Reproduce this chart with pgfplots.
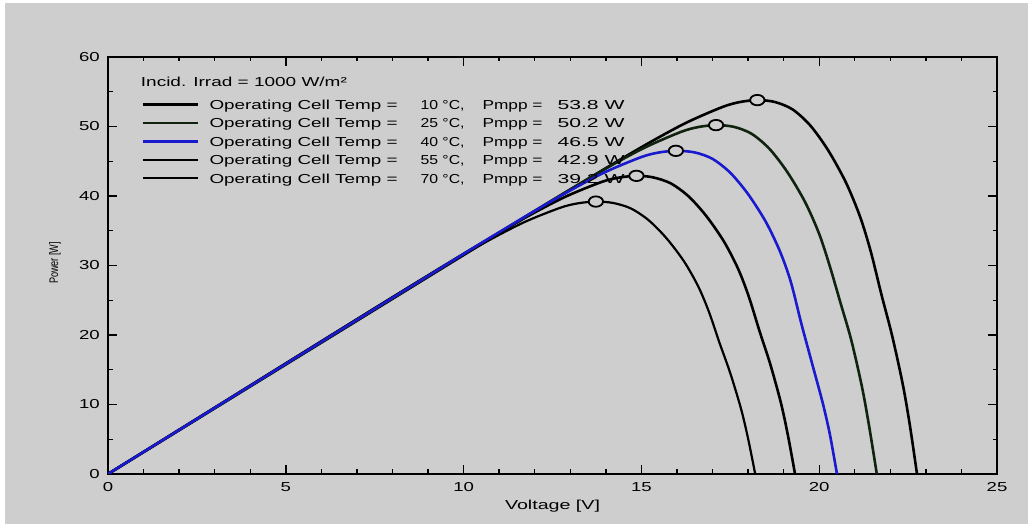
\documentclass[border=0pt]{standalone}
\usepackage{pgfplots}
\pgfplotsset{compat=1.18}
\usepackage{fontspec}
\setmainfont{Liberation Sans}
\newfontfamily\widef[FakeStretch=1.43]{Liberation Sans}
\definecolor{bg}{RGB}{206,206,206}
\definecolor{c25}{RGB}{15,35,15}
\definecolor{cblue}{RGB}{25,25,205}
\newcommand\legfont{\fontsize{13}{15}\selectfont}
\newcommand\fit[2]{\resizebox{#1}{\height}{\legfont #2}}
\newcommand\row[2]{\makebox[211pt][l]{\fit{188pt}{Operating Cell Temp =}}\makebox[62pt][l]{\fit{44pt}{#1 °C,}}\makebox[75pt][l]{\fit{60pt}{Pmpp =}}\fit{67pt}{#2 W}}
\begin{document}
\begin{tikzpicture}
\useasboundingbox (-108pt,-50pt) rectangle (920pt,474pt);
\fill[white] (-108pt,-50pt) rectangle (920pt,474pt);
\fill[bg] (-103pt,-50pt) rectangle (920pt,471pt);
\node[rotate=90, anchor=center, inner sep=0pt] at (-53pt,211pt) {\resizebox{42pt}{9pt}{\fontsize{12}{14}\selectfont Power [W]}};
\begin{axis}[
  at={(0pt,0pt)}, anchor=south west,
  scale only axis, width=889pt, height=417pt,
  xmin=0, xmax=25, ymin=0, ymax=60,
  xtick={0,5,...,25}, ytick={0,10,...,60},
  minor x tick num=4, minor y tick num=1,
  tick align=inside,
  major tick length=9pt, minor tick length=4.5pt,
  tick style={black, line width=1.4pt},
  axis line style={line width=2.6pt},
  tick label style={font=\widef\fontsize{13}{15}\selectfont, /pgf/number format/assume math mode=true},
  xticklabel style={anchor=north, inner sep=0pt, yshift=-8pt},
  yticklabel style={anchor=east, inner sep=0pt, xshift=-8pt},
  xlabel={\fit{95pt}{Voltage [V]}},
  xlabel style={at={(axis description cs:0.5,-0.0863)}, anchor=base, inner sep=0pt},
  legend style={at={(0.0382,0.898)}, anchor=north west, draw=none, fill=none, inner sep=0pt, row sep=9.2pt,
    font=\legfont,
    nodes={inner sep=0pt, text height=9.3pt, text depth=0pt, font=\legfont},
    cells={anchor=west}},
  legend image code/.code={\draw[#1] (0pt,0pt) -- (55pt,0pt); \path (65pt,0pt);},
]
% 10 C
\addplot[black, line width=2.6pt, smooth, tension=0.5, forget plot] coordinates {
(0,0) (2,6.30) (4,12.60) (6,18.90) (8,25.20) (10,31.50) (11,34.65) (12.26,38.60) (13.26,41.72) (14.26,44.80) (15.26,47.78) (16.26,50.54) (17.26,52.77) (17.76,53.51) (18.26,53.80) (18.75,53.53) (19.25,52.46) (19.75,50.14) (20.25,46.59) (20.75,41.96) (21.15,37.01) (21.45,32.01) (21.75,25.82) (22.05,19.91) (22.35,12.91) (22.55,6.99) (22.75,0)};
% 25 C
\addplot[c25, line width=2.6pt, smooth, tension=0.5, forget plot] coordinates {
(0,0) (2,6.32) (4,12.64) (6,18.96) (8,25.28) (10,31.59) (11.1,35.05) (12.1,38.18) (13.1,41.26) (14.1,44.24) (15.1,46.98) (16.1,49.20) (16.6,49.92) (17.1,50.20) (17.6,49.95) (18.1,48.95) (18.6,46.79) (19.1,43.47) (19.6,39.16) (20.0,34.54) (20.3,29.87) (20.6,24.60) (20.9,19.30) (21.2,12.60) (21.4,7.00) (21.62,0)};
% 55 C
\addplot[black, line width=2.6pt, smooth, tension=0.5, forget plot] coordinates {
(0,0) (2,6.36) (4,12.72) (6,19.07) (8.86,28.13) (9.86,31.25) (10.86,34.31) (11.86,37.24) (12.86,39.89) (13.86,41.98) (14.36,42.64) (14.86,42.90) (15.32,42.69) (15.82,41.83) (16.32,39.98) (16.82,37.15) (17.32,33.46) (17.72,29.52) (18.02,25.53) (18.32,20.59) (18.62,15.87) (18.92,10.30) (19.12,5.58) (19.32,0)};
% 70 C
\addplot[black, line width=2.2pt, smooth, tension=0.5, forget plot] coordinates {
(0,0) (2,6.38) (4,12.75) (6,19.12) (7.72,24.57) (8.72,27.69) (9.72,30.74) (10.72,33.65) (11.72,36.27) (12.72,38.31) (13.22,38.95) (13.72,39.20) (14.2,39.00) (14.7,38.22) (15.2,36.53) (15.7,33.95) (16.2,30.58) (16.6,26.97) (16.9,23.32) (17.2,18.82) (17.5,14.50) (17.8,9.41) (18.0,5.10) (18.2,0)};
% 40 C
\addplot[cblue, line width=2.6pt, smooth, tension=0.5, forget plot] coordinates {
(0,0) (2,6.34) (4,12.68) (6,19.02) (8,25.34) (9.97,31.57) (10.97,34.69) (11.97,37.76) (12.97,40.71) (13.97,43.41) (14.97,45.55) (15.47,46.24) (15.97,46.50) (16.5,46.27) (17.0,45.34) (17.5,43.34) (18.0,40.27) (18.5,36.27) (18.9,31.99) (19.2,27.67) (19.5,21.60) (19.8,15.90) (20.1,10.20) (20.3,5.70) (20.5,0)};
% MPP markers
\addplot[only marks, mark=*, mark size=5.2pt, mark options={fill=bg, draw=black, line width=1.8pt, xscale=1.38}, forget plot] coordinates {
(18.26,53.8) (17.1,50.2) (15.97,46.5) (14.86,42.9) (13.72,39.2)};
\node[anchor=base west, inner sep=0pt] at (axis cs:0.92,55.8) {\fit{206pt}{Incid. Irrad = 1000 W/m²}};
\addlegendimage{black, line width=2.4pt}
\addlegendentry{\row{10}{53.8}}
\addlegendimage{c25, line width=2.4pt}
\addlegendentry{\row{25}{50.2}}
\addlegendimage{cblue, line width=2.4pt}
\addlegendentry{\row{40}{46.5}}
\addlegendimage{black, line width=2.4pt}
\addlegendentry{\row{55}{42.9}}
\addlegendimage{black, line width=1.8pt}
\addlegendentry{\row{70}{39.2}}
\end{axis}
\end{tikzpicture}
\end{document}
